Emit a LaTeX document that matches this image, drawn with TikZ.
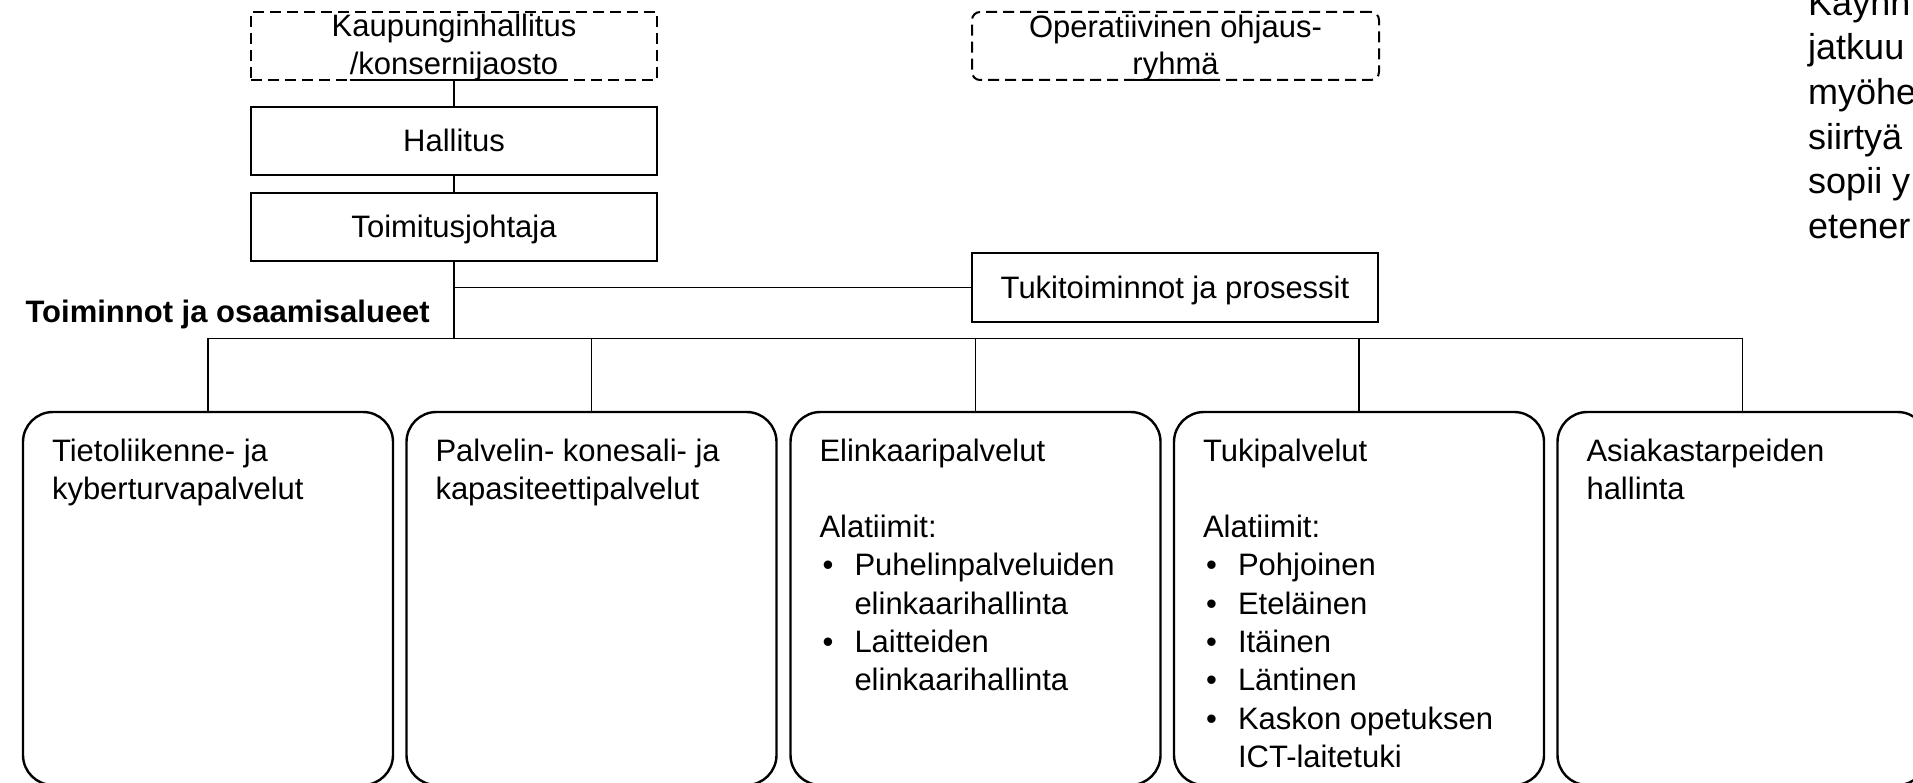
\documentclass[tikz,border=0pt]{standalone}
\usepackage{fontspec}
\setmainfont{Liberation Sans}
\usetikzlibrary{calc}
% bullet and hanging indent for the team lists
\newcommand\itemmark{\makebox[35pt][l]{\hspace{3pt}\textbullet}}
\newcommand\itemgap{\hspace*{35pt}}
\begin{document}
\begin{tikzpicture}[x=1pt,y=-1pt,
  txt/.style={font=\fontsize{31}{38}\selectfont,inner sep=0pt},
  govbox/.style={draw=black,line width=2.4pt,inner sep=0pt,minimum width=406pt,minimum height=68pt,
    font=\fontsize{31}{38}\selectfont,text height=22pt,text depth=0pt},
  planbox/.style={draw=black,line width=2pt,dash pattern=on 11pt off 6pt,inner sep=0pt,
    minimum width=406pt,minimum height=68pt},
  unitbox/.style={draw=black,line width=2.4pt,rounded corners=30pt,minimum width=370pt,
    minimum height=373pt,inner sep=0pt},
  % the first line starts with a strut, so the top edge sits 0.7\baselineskip above its baseline
  body/.style={font=\fontsize{31}{38.3}\selectfont,align=left,inner sep=0pt,anchor=north west},
  link/.style={line width=1.3pt,draw=black},
  uline/.style={line width=2pt,draw=black},
]
\useasboundingbox (0,0) rectangle (1913,783);

% planning bodies (dashed)
\node[planbox] (kh) at (454,46) {};
\node[txt,anchor=base] (kh1) at (454,37) {Kaupunginhallitus};
\node[txt,anchor=base] (kh2) at (454,75) {/konsernijaosto};
\draw[uline] ([yshift=-5pt]kh2.base west) -- ([yshift=-5pt]kh2.base east);

\node[planbox,rounded corners=8pt,minimum width=407pt] (op) at (1175.5,46) {};
\node[txt,anchor=base] (op1) at (1175.5,38) {Operatiivinen ohjaus-};
\node[txt,anchor=base] (op2) at (1175.5,75) {ryhmä};
\draw[uline] ([yshift=-5pt]op2.base west) -- ([yshift=-5pt]op2.base east);

% management chain
\node[govbox] (hal) at (454,141) {Hallitus};
\node[govbox] (tj) at (454,227) {Toimitusjohtaja};
\node[govbox,minimum height=69pt] (tuki) at (1175,287.5) {Tukitoiminnot ja prosessit};

\node[txt,font=\bfseries\fontsize{31}{38}\selectfont,anchor=base east] (lab) at (430,323)
  {Toiminnot ja osaamisalueet};

% service areas
\node[unitbox] (b1) at (208,598.5) {};
\node[unitbox] (b2) at (591.5,598.5) {};
\node[unitbox] (b3) at (975.5,598.5) {};
\node[unitbox] (b4) at (1359,598.5) {};
\node[unitbox] (b5) at (1742.5,598.5) {};

\node[body] (t1) at ($(b1.north west)+(30,23.2)$) {\strut Tietoliikenne- ja\\kyberturvapalvelut};
\node[body] (t2) at ($(b2.north west)+(30,23.2)$) {\strut Palvelin- konesali- ja\\kapasiteettipalvelut};
\node[body] (t3) at ($(b3.north west)+(30,23.2)$) {\strut Elinkaaripalvelut\\[38.3pt]Alatiimit:\\
  \itemmark Puhelinpalveluiden\\\itemgap elinkaarihallinta\\
  \itemmark Laitteiden\\\itemgap elinkaarihallinta};
\node[body] (t4) at ($(b4.north west)+(30,23.2)$) {\strut Tukipalvelut\\[38.3pt]Alatiimit:\\
  \itemmark Pohjoinen\\\itemmark Eteläinen\\\itemmark Itäinen\\\itemmark Läntinen\\
  \itemmark Kaskon opetuksen\\\itemgap ICT-laitetuki};
\node[body] (t5) at ($(b5.north west)+(30,23.2)$) {\strut Asiakastarpeiden\\hallinta};

% side note, running off the page
\node[font=\fontsize{36}{44.6}\selectfont,align=left,inner sep=0pt,anchor=north west] (note)
  at (1808,-16.2) {\strut Käynn\\jatkuu\\myöhe\\siirtyä\\sopii y\\etener};

% connectors
\draw[link] (kh.south) -- (hal.north);
\draw[link] (hal.south) -- (tj.north);
\draw[link] (tj.south) |- (tuki.west);
\foreach \b in {b1,b2,b3,b4,b5}
  \draw[link] (tj.south) -- ++(0,76) -| (\b.north);
\end{tikzpicture}
\end{document}
